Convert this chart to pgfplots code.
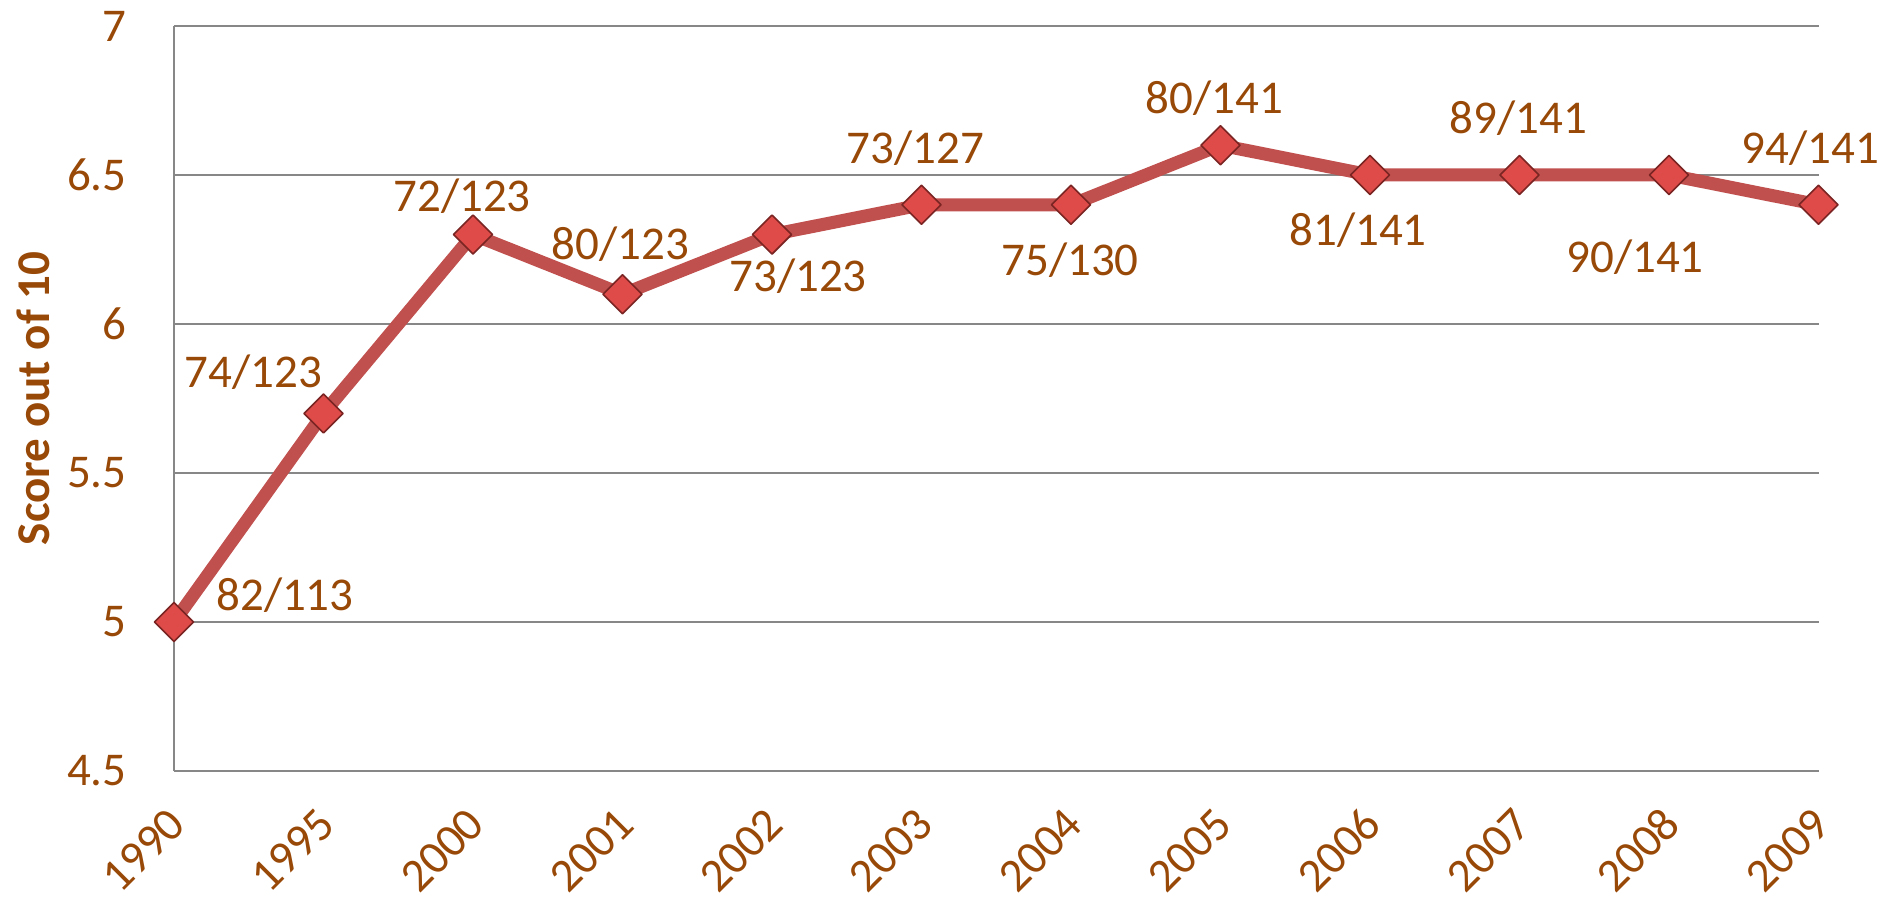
\documentclass[border=0pt]{standalone}
\usepackage{pgfplots}
\pgfplotsset{compat=1.18}
\usepackage{pgfplotstable}
\usepackage{fontspec}
\setmainfont{Carlito}
\definecolor{txt}{HTML}{984807}
\definecolor{linered}{HTML}{C0504D}
\definecolor{markred}{HTML}{DE4B48}
\definecolor{markdark}{HTML}{7A2523}
\definecolor{gridgray}{HTML}{878787}
\newcommand\lbl{\fontsize{23.5pt}{28pt}\selectfont}

\pgfplotstableread{
x y label dx dy
0 5.0 82/113 111 -27
1 5.7 74/123 -70 -41
2 6.3 72/123 -11 -38
3 6.1 80/123 -2 -50
4 6.3 73/123 26 42
5 6.4 73/127 -6 -57
6 6.4 75/130 -1 55
7 6.6 80/141 -6 -47
8 6.5 81/141 -12 55
9 6.5 89/141 -1 -57
10 6.5 90/141 -34 82
11 6.4 94/141 -8 -57
}\scoredata

\begin{document}
\begin{tikzpicture}
\useasboundingbox (-87pt,-66.5pt) rectangle (865pt,385.5pt);
\begin{axis}[
  at={(0,0)}, anchor=south west,
  scale only axis,
  width=822.25pt, height=372.5pt,
  xmin=0, xmax=11, ymin=4.5, ymax=7,
  clip=false,
  axis x line*=bottom, axis y line*=left,
  axis line style={draw=gridgray, line width=1pt, -},
  major tick length=0pt,
  xtick={0,1,2,3,4,5,6,7,8,9,10,11},
  xticklabels={1990,1995,2000,2001,2002,2003,2004,2005,2006,2007,2008,2009},
  ytick={4.5,5,5.5,6,6.5,7},
  yticklabels={4.5,5,5.5,6,6.5,7},
  ymajorgrids,
  major grid style={draw=gridgray, line width=1pt},
  tick label style={font=\lbl, text=txt},
  xticklabel style={xshift=7pt, yshift=-28pt, rotate=45, anchor=base east, inner sep=0pt},
  yticklabel style={anchor=east, inner sep=0pt, xshift=-23.5pt},
  ylabel={Score out of 10},
  ylabel style={at={(axis description cs:-0.0857,0.5)}, anchor=center, font=\lbl\bfseries, text=txt},
]
\addplot[
  color=linered, line width=6.5pt, line join=round,
  mark=square*, mark size=6.9pt,
  mark options={rotate=45, solid, fill=markred, draw=markdark, line width=0.8pt},
  point meta=explicit symbolic,
  visualization depends on={\thisrow{dx} \as \dx},
  visualization depends on={\thisrow{dy} \as \dy},
  nodes near coords,
  every node near coord/.append style={anchor=center, font=\lbl, text=txt, inner sep=0pt,
     xshift={0.5pt*(\dx)}, yshift={-0.5pt*(\dy)}},
] table[x=x, y=y, meta=label] {\scoredata};
\end{axis}
\end{tikzpicture}
\end{document}
